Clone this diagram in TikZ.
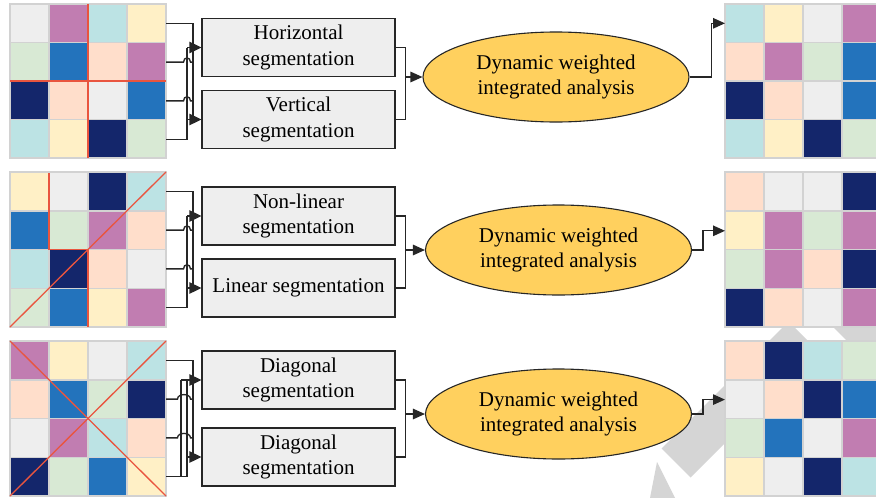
\documentclass[tikz,border=0pt]{standalone}
\usepackage{fontspec}
\setmainfont{Liberation Serif}
\usetikzlibrary{shapes.geometric,arrows.meta}
\definecolor{cG}{HTML}{EEEEEE}
\definecolor{cP}{HTML}{C17DB1}
\definecolor{cC}{HTML}{BCE3E4}
\definecolor{cY}{HTML}{FFF0C6}
\definecolor{cL}{HTML}{D8E9D4}
\definecolor{cB}{HTML}{2373BC}
\definecolor{cE}{HTML}{FFDECB}
\definecolor{cN}{HTML}{14266B}
\definecolor{redc}{HTML}{E9553F}
\definecolor{cellline}{HTML}{D2D2D2}
\definecolor{boxfill}{HTML}{EEEEEE}
\definecolor{ellfill}{HTML}{FFD05E}
\definecolor{wmark}{HTML}{D5D5D5}
\definecolor{ink}{HTML}{262626}
\tikzset{
  conn/.style={draw=ink, line width=1.35pt},
  arrL/.style={-{Triangle[length=12pt,width=11.5pt]}},
  arrR/.style={-{Triangle[length=12pt,width=10.5pt]}},
  segbox/.style={draw=ink, fill=boxfill, line width=1.3pt, minimum width=193pt,
    minimum height=58pt, inner sep=0pt, align=center,
    font=\fontsize{21}{25.5}\selectfont},
  dwia/.style={ellipse, draw=ink, fill=ellfill, line width=1.1pt, minimum width=266pt,
    minimum height=90pt, inner sep=0pt, align=center,
    font=\fontsize{21}{25.5}\selectfont},
  cellbox/.style={draw=cellline, line width=1.5pt},
  redline/.style={draw=redc, line width=1.3pt},
}
\newcommand\cellgrid[4]{%
  \foreach \rw [count=\i from 0] in {#4} {
    \foreach \cc [count=\j from 0] in \rw {
      \filldraw[cellbox, fill=\cc] (#1+\j*39, #2+\i*#3) rectangle ++(39,#3);
    }}}
\newcommand\rowcoords[2]{%
  \path (166,#2+19.4) coordinate (#1r1) (166,#2+58.1) coordinate (#1r2)
        (166,#2+96.9) coordinate (#1r3) (166,#2+135.6) coordinate (#1r4);}
\newcommand\leftlinks[3]{% id, box A, box B
  \path (#2.west -| xk) coordinate (#1ka) (#3.west -| xk) coordinate (#1kb)
        (#3.west -| xkc) coordinate (#1kc);
  \draw[conn] (#1r1) -| (#1kc);
  \draw[conn] (#1r4) -| (#1ka);
  \foreach \r in {2,3}
    \draw[conn] (#1r\r) -- ++(17.5,0) .. controls +(0,-5.5) and +(0,-5.5) .. ++(7,0) -- ++(2.5,0);
  \draw[conn,arrL] (#1ka) -- (#2.west);
  \draw[conn,arrL] (#1kb) -- (#3.west);
}
\begin{document}
\begin{tikzpicture}[x=1pt,y=-1pt]
\useasboundingbox (0,0) rectangle (876,498);
\clip (0,0) rectangle (876,498);
\fill[white] (0,0) rectangle (876,498);
% watermark fragments
\fill[wmark] (788.5,321.5) -- (817.5,350.5) -- (690.5,477.5) -- (661.5,448.5) -- cycle;
\fill[wmark] (826,320) -- (876,320) -- (876,370) -- cycle;
\fill[wmark] (657,462) -- (675,498) -- (650,498) -- cycle;
% reference x positions
\coordinate (xkk) at (181,0);
\coordinate (xk) at (187,0);
\coordinate (xkc) at (193,0);
% left grids
\cellgrid{10}{4}{38.5}{{cG,cP,cC,cY},{cL,cB,cE,cP},{cN,cE,cG,cB},{cC,cY,cN,cL}}
\cellgrid{10}{172}{38.75}{{cY,cG,cN,cC},{cB,cL,cP,cE},{cC,cN,cE,cG},{cL,cB,cY,cP}}
\cellgrid{10}{341}{38.75}{{cP,cY,cG,cC},{cE,cB,cL,cN},{cG,cP,cC,cE},{cN,cL,cB,cY}}
% right grids
\cellgrid{725}{4}{38.5}{{cC,cY,cG,cP},{cE,cP,cL,cB},{cN,cE,cG,cB},{cC,cY,cN,cL}}
\cellgrid{725}{172}{38.75}{{cE,cG,cG,cN},{cY,cP,cL,cP},{cL,cP,cE,cN},{cN,cE,cG,cP}}
\cellgrid{725}{341}{38.75}{{cE,cN,cC,cL},{cG,cE,cN,cB},{cL,cB,cG,cP},{cY,cG,cN,cC}}
% red cut lines
\draw[redline] (88,4) -- (88,158);
\draw[redline] (10,81) -- (166,81);
\draw[redline] (10,327) -- (166,172);
\draw[redline] (49,173) -- (49,249.5) -- (88,249.5) -- (88,327);
\draw[redline] (10,341) -- (166,496);
\draw[redline] (10,496) -- (166,341);
% boxes
\node[segbox] (b1) at (298.5,47.5) {Horizontal\\segmentation};
\node[segbox] (b2) at (298.5,119.5) {Vertical\\segmentation};
\node[segbox] (b3) at (298.5,216) {Non-linear\\segmentation};
\node[segbox] (b4) at (298.5,288) {Linear segmentation};
\node[segbox] (b5) at (298.5,380) {Diagonal\\segmentation};
\node[segbox] (b6) at (298.5,457) {Diagonal\\segmentation};
% ellipses
\node[dwia] (e1) at (556,77) {Dynamic weighted\\integrated analysis};
\node[dwia] (e2) at (558.5,250) {Dynamic weighted\\integrated analysis};
\node[dwia] (e3) at (558.5,414) {Dynamic weighted\\integrated analysis};
% left connectors
\rowcoords{ga}{4}
\rowcoords{gb}{172}
\rowcoords{gc}{341}
\leftlinks{ga}{b1}{b2}
\leftlinks{gb}{b3}{b4}
% group 3 with two inner buses
\path (b5.west -| xkk) coordinate (gcka) (b5.west -| xk) coordinate (gckd)
      (b6.west -| xk) coordinate (gckb) (b6.west -| xkc) coordinate (gckc);
\draw[conn] (gcr1) -| (gckc);
\draw[conn] (gcr4) -| (gcka);
\draw[conn] (gcr4) -| (gckd);
\foreach \r in {2,3}
  \draw[conn] (gcr\r) -- ++(11.5,0) .. controls +(0,-6) and +(0,-6) .. ++(13,0) -- ++(2.5,0);
\draw[conn,arrL] (gcka) -- (b5.west);
\draw[conn,arrL] (gckb) -- (b6.west);
% box to ellipse
\draw[conn] (b1.east) -- ++(10,0) coordinate (m1) |- (b2.east);
\draw[conn,arrR] (m1 |- e1.west) -- (e1.west);
\draw[conn] (b3.east) -- ++(10,0) coordinate (m2) |- (b4.east);
\draw[conn,arrR] (m2 |- e2.west) -- (e2.west);
\draw[conn] (b5.east) -- ++(10,0) coordinate (m3) |- (b6.east);
\draw[conn,arrR] (m3 |- e3.west) -- (e3.west);
% ellipse to result grids
\coordinate (rg1) at (725,23.3);
\coordinate (rg2) at (725,230.8);
\coordinate (rg3) at (725,399.6);
\draw[conn,arrR] (e1.east) -- ++(22,0) |- (rg1);
\draw[conn,arrR] (e2.east) -- ++(11,0) |- (rg2);
\draw[conn,arrR] (e3.east) -- ++(11,0) |- (rg3);
\end{tikzpicture}
\end{document}
